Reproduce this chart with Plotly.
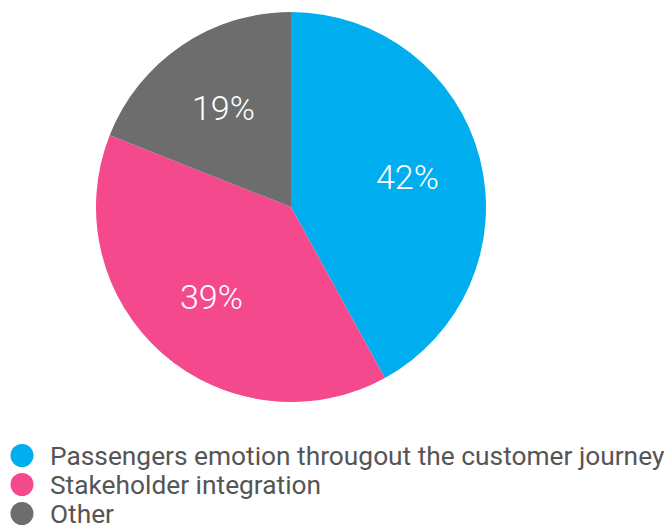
import math
import plotly.graph_objects as go

labels = ["Passengers emotion througout the customer journey", "Stakeholder integration", "Other"]
values = [42, 39, 19]
colors = ["#00AEEF", "#F5498E", "#6D6D6D"]

W, H = 664, 527
cx, cy, R = 291, 207, 195  # pie centre/radius in pixels

fig = go.Figure()
fig.add_trace(go.Pie(
    labels=labels, values=values, sort=False, direction="clockwise", rotation=0,
    marker=dict(colors=colors, line=dict(width=0)),
    textinfo="none", showlegend=False, hoverinfo="skip",
    domain=dict(x=[(cx - R)/W, (cx + R)/W], y=[1-(cy + R)/H, 1-(cy - R)/H]),
))

annotations = []
shapes = []
total = sum(values)
cum = 0
for v in values:
    mid = (cum + v / 2) / total * 2 * math.pi
    cum += v
    px = cx + 0.615 * R * math.sin(mid)
    py = cy - 0.615 * R * math.cos(mid)
    annotations.append(dict(x=px / W, y=1 - py / H, xref="paper", yref="paper",
                            text=f"{round(v / total * 100)}%", showarrow=False,
                            xanchor="center", yanchor="middle",
                            font=dict(family="Roboto", size=34, color="white", weight=300)))

# legend
for i, (lab, col) in enumerate(zip(labels, colors)):
    yc = 455.5 + 29 * i
    r = 11.5
    shapes.append(dict(type="circle", xref="paper", yref="paper",
                       x0=(22 - r) / W, x1=(22 + r) / W, y0=1 - (yc + r) / H, y1=1 - (yc - r) / H,
                       fillcolor=col, line=dict(width=0)))
    annotations.append(dict(x=48 / W, y=1 - (yc + 0.5) / H, xref="paper", yref="paper",
                            text=lab, showarrow=False, xanchor="left", yanchor="middle",
                            font=dict(family="Roboto", size=26.3, color="#555555")))

fig.update_layout(
    width=W, height=H, margin=dict(l=0, r=0, t=0, b=0),
    paper_bgcolor="white", plot_bgcolor="white",
    annotations=annotations, shapes=shapes,
)
fig.write_html("out.html")
